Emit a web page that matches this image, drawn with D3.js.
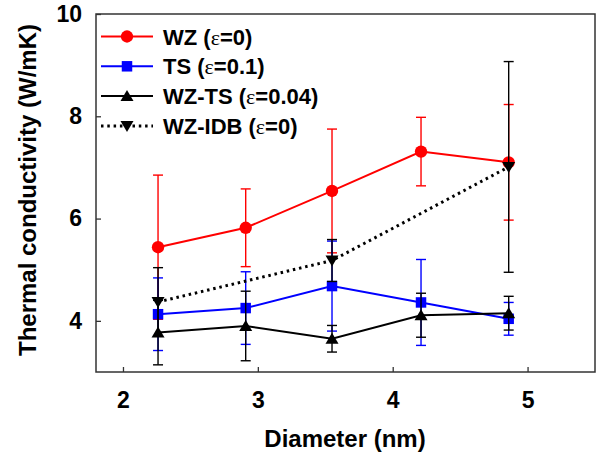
<!DOCTYPE html>
<html>
<head>
<meta charset="utf-8">
<script src="https://cdn.jsdelivr.net/npm/d3@7"></script>
<style>
  body { margin: 0; background: #fff; }
  text { font-family: "Liberation Sans", Arial, sans-serif; font-weight: bold; }
</style>
</head>
<body>
<div id="chart"></div>
<script>
// Data
var diameters = [2.26, 2.91, 3.55, 4.21, 4.86];
var wzValues = [5.44, 5.82, 6.54, 7.31, 7.10];
var wzErrors = [1.41, 0.76, 1.21, 0.67, 1.13];
var tsValues = [4.13, 4.25, 4.68, 4.36, 4.04];
var tsErrors = [0.71, 0.71, 0.88, 0.84, 0.32];
var wztsValues = [3.77, 3.90, 3.65, 4.11, 4.15];
var wztsErrors = [0.63, 0.68, 0.26, 0.43, 0.33];
var idbDiameters = [2.26, 3.55, 4.86];
var idbValues = [4.37, 5.18, 7.01];
var idbErrors = [0.67, 0.41, 2.06];
var xTicks = [2, 3, 4, 5];
var yTicks = [4, 6, 8, 10];

// legend labels: [before epsilon, after epsilon]
var series = [
  { name: ["WZ (", "=0)"], xs: diameters, ys: wzValues, err: wzErrors, color: "#ff0000", symbol: "circle", dash: null },
  { name: ["TS (", "=0.1)"], xs: diameters, ys: tsValues, err: tsErrors, color: "#0000ff", symbol: "square", dash: null },
  { name: ["WZ-TS (", "=0.04)"], xs: diameters, ys: wztsValues, err: wztsErrors, color: "#000000", symbol: "up", dash: null },
  { name: ["WZ-IDB (", "=0)"], xs: idbDiameters, ys: idbValues, err: idbErrors, color: "#000000", symbol: "down", dash: "2.5,3.8" }
];

var width = 600, height = 461;
var margin = { top: 14, right: 5, bottom: 89, left: 96 };

var x = d3.scaleLinear().domain([1.8, 5.5]).range([margin.left, width - margin.right]);
var y = d3.scaleLinear().domain([3, 10]).range([height - margin.bottom, margin.top]);

var svg = d3.select("#chart").append("svg")
  .attr("width", width)
  .attr("height", height);

// axes with inward ticks
var gx = svg.append("g")
  .attr("transform", `translate(0,${height - margin.bottom})`)
  .call(d3.axisBottom(x).tickValues(xTicks).tickFormat(d3.format("d")).tickSizeInner(-5).tickSizeOuter(0).tickPadding(20));
var gy = svg.append("g")
  .attr("transform", `translate(${margin.left},0)`)
  .call(d3.axisLeft(y).tickValues(yTicks).tickFormat(d3.format("d")).tickSizeInner(-5).tickSizeOuter(0).tickPadding(14));
[gx, gy].forEach(function (g) {
  g.select(".domain").remove();
  g.selectAll("line").attr("stroke", "#333").attr("stroke-width", 1.3);
  g.selectAll("text").attr("font-size", 23).attr("fill", "#000")
    .style("font-family", '"Liberation Sans", Arial, sans-serif').style("font-weight", "bold");
});

// frame
svg.append("rect")
  .attr("x", margin.left).attr("y", margin.top)
  .attr("width", width - margin.right - margin.left)
  .attr("height", height - margin.bottom - margin.top)
  .attr("fill", "none").attr("stroke", "#333").attr("stroke-width", 1.5);

// axis titles
svg.append("text")
  .attr("x", 345).attr("y", 447)
  .attr("text-anchor", "middle").attr("font-size", 24)
  .text("Diameter (nm)");
svg.append("text")
  .attr("transform", "translate(36,190) rotate(-90)")
  .attr("text-anchor", "middle").attr("font-size", 24)
  .text("Thermal conductivity (W/mK)");

function symbolPath(kind) {
  if (kind == "circle") return d3.symbol(d3.symbolCircle, 120)();
  if (kind == "square") return d3.symbol(d3.symbolSquare, 110)();
  if (kind == "up") return "M0,-6L6.5,5L-6.5,5Z";
  return "M0,6L6.5,-5L-6.5,-5Z";
}

var line = d3.line().x(d => x(d[0])).y(d => y(d[1]));

series.forEach(function (s) {
  var pts = s.xs.map((v, i) => [v, s.ys[i], s.err[i]]);
  var g = svg.append("g");
  // error bars
  var eb = g.selectAll(".eb").data(pts).enter().append("g").attr("class", "eb")
    .attr("stroke", s.color).attr("stroke-width", 1.4);
  eb.append("line")
    .attr("x1", d => x(d[0])).attr("x2", d => x(d[0]))
    .attr("y1", d => y(d[1] - d[2])).attr("y2", d => y(d[1] + d[2]));
  eb.append("line")
    .attr("x1", d => x(d[0]) - 5).attr("x2", d => x(d[0]) + 5)
    .attr("y1", d => y(d[1] + d[2])).attr("y2", d => y(d[1] + d[2]));
  eb.append("line")
    .attr("x1", d => x(d[0]) - 5).attr("x2", d => x(d[0]) + 5)
    .attr("y1", d => y(d[1] - d[2])).attr("y2", d => y(d[1] - d[2]));
  // line
  g.append("path")
    .attr("d", line(pts))
    .attr("fill", "none")
    .attr("stroke", s.color)
    .attr("stroke-width", s.dash ? 3 : 2)
    .attr("stroke-dasharray", s.dash);
  // markers
  g.selectAll(".mk").data(pts).enter().append("path").attr("class", "mk")
    .attr("d", symbolPath(s.symbol))
    .attr("transform", d => `translate(${x(d[0])},${y(d[1])})`)
    .attr("fill", s.color);
});

// legend
var legend = svg.append("g");
series.forEach(function (s, i) {
  var ly = 36.5 + i * 29.8;
  legend.append("line")
    .attr("x1", 101).attr("x2", 153).attr("y1", ly).attr("y2", ly)
    .attr("stroke", s.color).attr("stroke-width", s.dash ? 3 : 2)
    .attr("stroke-dasharray", s.dash);
  legend.append("path")
    .attr("d", symbolPath(s.symbol))
    .attr("transform", `translate(127,${ly})`)
    .attr("fill", s.color);
  var t = legend.append("text")
    .attr("x", 163).attr("y", ly + 8)
    .attr("font-size", 22);
  t.append("tspan").text(s.name[0]);
  t.append("tspan").style("font-family", '"Liberation Serif", "Times New Roman", serif').style("font-weight", "normal").text("\u03b5");
  t.append("tspan").text(s.name[1]);
});
</script>
</body>
</html>
